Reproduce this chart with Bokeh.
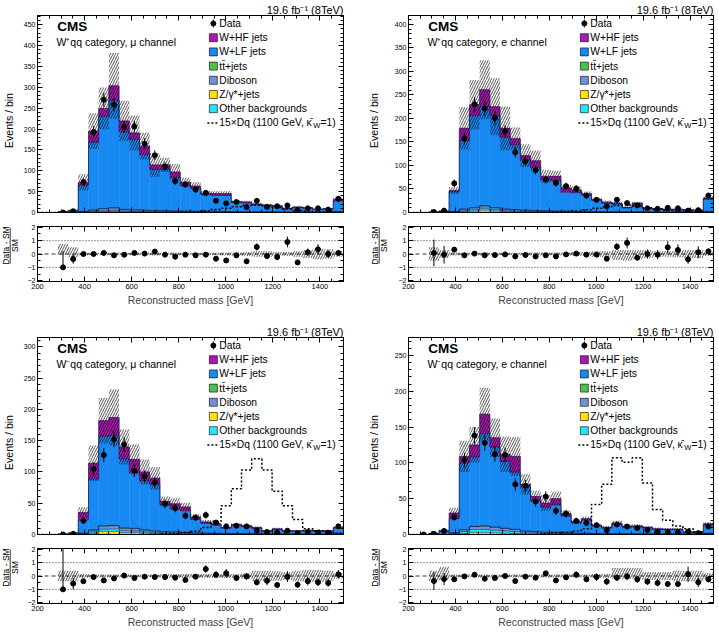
import math
from bokeh.plotting import figure
from bokeh.layouts import column, row
from bokeh.models import (Range1d, LinearAxis, SingleIntervalTicker, FixedTicker,
                          Span, CustomJSTickFormatter)
from bokeh.core.properties import value
from bokeh.embed import file_html
from bokeh.resources import INLINE

NaN = float("nan")
X_LO, X_HI, N_BINS = 200, 1500, 30
BIN_W = (X_HI - X_LO) / N_BINS
edges = [X_LO + i * BIN_W for i in range(N_BINS + 1)]
centers = [X_LO + (i + 0.5) * BIN_W for i in range(N_BINS)]

LUMI = "19.6 fb\u207b\u00b9 (8TeV)"
X_TITLE = "Reconstructed mass [GeV]"
Y_TITLE = "Events / bin"
R_NUM, R_DEN = "Data - SM", "SM"
LEGEND_LABELS = ["Data", "W+HF jets", "W+LF jets", "tt\u0304+jets", "Diboson",
                 "Z/\u03b3*+jets", "Other backgrounds", "15\u00d7Dq (1100 GeV, \u03ba\u0304"]

# ---------------- W+qq, mu channel ----------------
tl_title = "W\u207aqq category, \u03bc channel"
tl_data = [NaN, NaN, 0, 3, 73, 193, 270, 258, 205, 206, 165, 137, 110, 75, 67, 55, 47, 28, 22, 25,
           13, 28, 13, 15, 17, 6, 10, 10, 7, 33]
tl_whf = [0, 0, 0.5, 1, 7, 26, 19, 35, 26, 15, 20, 11, 11, 13, 8, 5, 3, 4, 4, 2,
          2, 2, 2, 1.5, 1, 1.5, 1, 1, 1, 4]
tl_wlf = [0, 0, 1, 4, 63, 163, 221, 257, 186, 169, 133.5, 98.5, 98.7, 80.5, 61, 55.5,
          40.8, 38.8, 39.2, 22.5, 21.5, 16.8, 14.8, 13.4, 8.3, 10.8, 9.3, 6.3, 7.4, 25]
tl_tt = [0, 0, 0, 0, 0.1, 0.3, 0.4, 0.5, 0.4, 0.4, 0.3, 0.3, 0.3, 0.2, 0.2, 0.2, 0.2, 0.2, 0.1, 0.1,
         0.1, 0.1, 0.1, 0.1, 0.1, 0.1, 0.1, 0.1, 0.1, 0.2]
tl_vv = [0, 0, 0, 0, 1, 3, 5, 6, 4, 3.5, 3, 2.5, 2.5, 2, 2, 1.5, 1.5, 1.5, 1.2, 1,
         1, 0.8, 0.8, 0.7, 0.5, 0.5, 0.5, 0.5, 0.4, 1.5]
tl_z = [0, 0, 0, 0, 0.5, 1, 2, 2.5, 1.5, 1, 1, 0.8, 0.6, 0.5, 0.4, 0.4, 0.3, 0.3, 0.3, 0.2,
        0.2, 0.2, 0.2, 0.2, 0.1, 0.1, 0.1, 0.1, 0.1, 0.3]
tl_oth = [0, 0, 0, 0, 0.5, 1.5, 2, 2.5, 1.5, 1.5, 1.2, 1, 1, 0.8, 0.7, 0.6, 0.5, 0.5, 0.4, 0.4,
          0.3, 0.3, 0.3, 0.3, 0.2, 0.2, 0.2, 0.2, 0.2, 0.5]
tl_sig = [0, 0, 0, 0, 0, 0, 0, 0, 0, 0, 0, 0, 0, 0.5, 1, 2, 4, 7, 10, 14,
          17, 18, 16, 12, 8, 5, 3, 2, 1, 1]
tl_unc = [0, 0, 0.5, 0.4, 0.27, 0.22, 0.2, 0.26, 0.22, 0.22, 0.2, 0.25, 0.15, 0.2, 0.15, 0.15,
          0.12, 0.12, 0.12, 0.12, 0.12, 0.15, 0.15, 0.15, 0.2, 0.15, 0.15, 0.2, 0.2, 0.12]
tl_ratio = [NaN, NaN, -1, -0.38, 0, 0, 0.08, -0.1, -0.05, 0.08, 0.03, 0.18, -0.05, -0.2, -0.05, -0.1,
            -0.05, -0.35, -0.48, -0.1, -0.55, 0.53, -0.15, -0.23, 0.9, -0.63, 0.13, 0.35, 0, 0.08]
tl_rlo = [NaN, NaN, -0.05, -0.25, -0.1, -0.1, -0.1, -0.12, -0.1, -0.1, -0.1, -0.12, -0.1, -0.12, -0.1,
          -0.1, -0.1, -0.1, -0.12, -0.12, -0.15, -0.2, -0.2, -0.15, -0.15, -0.2, -0.3, -0.4, -0.35, -0.2]
tl_rhi = [NaN, NaN, 0.75, 0.5, 0.1, 0.1, 0.1, 0.12, 0.1, 0.1, 0.1, 0.12, 0.1, 0.12, 0.1,
          0.1, 0.1, 0.1, 0.12, 0.12, 0.15, 0.2, 0.2, 0.15, 0.15, 0.2, 0.3, 0.4, 0.35, 0.2]

# ---------------- W+qq, e channel ----------------
tr_title = "W\u207aqq category, e channel"
tr_data = [NaN, NaN, 1, 4, 62, 157, 230, 221, 201, 173, 128, 109, 90, 70, 63, 56, 51, 36, 27, 13,
           27, 20, 15, 9, 8, 10, 9, 4, 5, 36]
tr_whf = [0, 0, 0, 0, 3, 26, 23, 36, 19, 19, 13, 10, 14, 7, 9, 9, 5, 3, 2, 2,
          2, 1, 2, 1, 1, 1, 1, 1, 0.5, 3]
tr_wlf = [0, 0, 1, 3, 41.9, 145.7, 195.6, 210.5, 195.6, 152.8, 137.8, 106, 91.8, 66.2, 65.1, 40.3,
          40.8, 34.8, 24.2, 18.5, 16.6, 8.8, 16.8, 7, 6.1, 5.2, 5.2, 4.2, 3.8, 25.8]
tr_tt = [0, 0, 0, 0, 0.1, 0.3, 0.4, 0.5, 0.4, 0.2, 0.2, 0.3, 0.2, 0.2, 0.1, 0.1, 0.1, 0.1, 0.1, 0.1,
         0.1, 0.1, 0.1, 0.1, 0.1, 0.1, 0.1, 0.1, 0.1, 0.2]
tr_vv = [0, 0, 0, 0, 1, 3, 4, 5, 4, 3, 3, 2.5, 2, 2, 1.5, 1.5, 1.2, 1.2, 1, 0.8,
         0.8, 0.6, 0.6, 0.5, 0.5, 0.4, 0.4, 0.4, 0.3, 1.2]
tr_z = [0, 0, 0, 0, 0.5, 2, 3, 5, 3, 2, 1.5, 1, 1, 0.8, 0.6, 0.5, 0.4, 0.4, 0.3, 0.3,
        0.2, 0.2, 0.2, 0.2, 0.1, 0.1, 0.1, 0.1, 0.1, 0.3]
tr_oth = [0, 0, 0, 0, 0.5, 2, 3, 4, 3, 2, 1.5, 1.2, 1, 0.8, 0.7, 0.6, 0.5, 0.5, 0.4, 0.3,
          0.3, 0.3, 0.3, 0.2, 0.2, 0.2, 0.2, 0.2, 0.2, 0.5]
tr_sig = [0, 0, 0, 0, 0, 0, 0, 0, 0, 0, 0, 0, 0, 0.5, 1, 2, 3, 6, 9, 12,
          15, 16, 14, 10, 7, 4, 3, 2, 1, 1]
tr_unc = [0, 0, 0.5, 0.4, 0.15, 0.25, 0.23, 0.24, 0.27, 0.26, 0.15, 0.2, 0.2, 0.18, 0.15, 0.15,
          0.15, 0.12, 0.12, 0.15, 0.15, 0.2, 0.15, 0.15, 0.15, 0.15, 0.15, 0.2, 0.2, 0.12]
tr_ratio = [NaN, NaN, 0.08, -0.05, 0.33, -0.1, 0.03, -0.1, -0.08, -0.03, -0.18, -0.08, -0.18, -0.1,
            -0.18, -0.03, 0.03, -0.05, -0.05, -0.35, 0.55, 0.83, -0.28, 0, -0.05, 0.5, 0.3, -0.4, 0.13, 0.2]
tr_rlo = [NaN, NaN, -0.5, -0.3, -0.12, -0.1, -0.1, -0.12, -0.1, -0.1, -0.1, -0.12, -0.12, -0.12, -0.12,
          -0.12, -0.15, -0.15, -0.2, -0.25, -0.45, -0.5, -0.4, -0.3, -0.2, -0.2, -0.25, -0.3, -0.3, -0.15]
tr_rhi = [NaN, NaN, 0.5, 0.3, 0.12, 0.1, 0.1, 0.12, 0.1, 0.1, 0.1, 0.12, 0.12, 0.12, 0.12,
          0.12, 0.15, 0.15, 0.2, 0.2, 0.3, 0.3, 0.3, 0.3, 0.2, 0.2, 0.25, 0.3, 0.3, 0.15]

# ---------------- W-qq, mu channel ----------------
bl_title = "W\u207bqq category, \u03bc channel"
bl_data = [NaN, NaN, 0, 1, 22, 105, 127, 152, 144, 102, 93, 83, 49, 42, 30, 27, 31, 19, 13, 14,
           13, 6, 4, 3, 6, 2, 4, 3, 3, 13]
bl_whf = [0, 0, 0, 0, 12, 25, 25, 29, 19, 21, 14, 9, 5, 8, 6, 4, 2, 2, 1, 2,
          2, 1, 1, 1, 1, 1, 1, 1, 1, 1.5]
bl_wlf = [0, 0, 0.5, 2.3, 20.9, 81.7, 143.1, 143.5, 110.6, 89.1, 78.7, 75.2, 43.6, 36.8, 34.7, 21.5,
          15.9, 13.1, 8.4, 12.4, 10.6, 8.8, 4, 7, 4.1, 4.2, 4.7, 4.3, 4.3, 8.1]
bl_tt = [0, 0, 0, 0, 0.1, 0.3, 0.4, 0.5, 0.4, 0.4, 0.3, 0.3, 0.2, 0.2, 0.2, 0.1, 0.1, 0.1, 0.1, 0.1,
         0.1, 0.1, 0.1, 0.1, 0.1, 0.1, 0.1, 0.1, 0.1, 0.1]
bl_vv = [0, 0, 0, 0, 1, 3, 5, 5, 4, 4, 3, 2.5, 2, 2, 1.5, 1.2, 1, 1, 0.8, 0.8,
         0.7, 0.6, 0.5, 0.5, 0.4, 0.4, 0.4, 0.3, 0.3, 1]
bl_z = [0, 0, 0, 0, 0.5, 2, 5, 5, 3, 3, 2, 1.5, 1, 1, 0.8, 0.6, 0.5, 0.4, 0.3, 0.3,
        0.3, 0.2, 0.2, 0.2, 0.2, 0.1, 0.1, 0.1, 0.1, 0.3]
bl_oth = [0, 0, 0, 0, 0.5, 2, 3.5, 4, 3, 2.5, 2, 1.5, 1.2, 1, 0.8, 0.6, 0.5, 0.4, 0.4, 0.4,
          0.3, 0.3, 0.2, 0.2, 0.2, 0.2, 0.2, 0.2, 0.2, 0.5]
bl_sig = [0, 0, 0, 0, 0, 0, 0, 0, 0, 0, 0, 0, 1, 1.5, 3, 5, 11, 21, 46, 73,
          103, 121, 103, 69, 46, 24, 9, 6, 4, 2]
bl_unc = [0, 0, 0.5, 0.4, 0.25, 0.25, 0.2, 0.24, 0.2, 0.2, 0.2, 0.2, 0.15, 0.18, 0.15, 0.15,
          0.15, 0.12, 0.12, 0.12, 0.12, 0.2, 0.2, 0.2, 0.2, 0.2, 0.2, 0.2, 0.2, 0.12]
bl_ratio = [NaN, NaN, -1, -0.57, -0.39, -0.08, -0.33, -0.18, 0.03, -0.15, -0.05, -0.08, -0.08, -0.13,
            -0.3, -0.05, 0.52, 0.1, 0.2, -0.15, -0.03, -0.47, -0.36, -0.67, -0.05, -0.65, -0.39, -0.47, -0.52, 0.13]
bl_rlo = [NaN, NaN, -0.4, -0.4, -0.15, -0.12, -0.12, -0.12, -0.12, -0.12, -0.12, -0.12, -0.15, -0.15, -0.15,
          -0.15, -0.15, -0.15, -0.15, -0.15, -0.2, -0.4, -0.4, -0.35, -0.3, -0.4, -0.45, -0.45, -0.4, -0.2]
bl_rhi = [NaN, NaN, 0.4, 0.4, 0.15, 0.12, 0.12, 0.12, 0.12, 0.12, 0.12, 0.12, 0.15, 0.15, 0.15,
          0.15, 0.15, 0.15, 0.15, 0.15, 0.2, 0.4, 0.4, 0.35, 0.3, 0.4, 0.45, 0.45, 0.4, 0.2]

# ---------------- W-qq, e channel ----------------
br_title = "W\u207bqq category, e channel"
br_data = [NaN, 0, 1, 5, 24, 104, 138, 128, 112, 111, 70, 68, 46, 53, 33, 29, 19, 16, 13, 6,
           14, 11, 9, 6, 4, 3, 3, 4, 2, 11]
br_whf = [0, 0, 0, 0, 8, 9, 17, 27, 13, 10, 22, 4, 6, 6, 8, 3, 2, 2, 1, 1,
          2, 1, 1, 1, 1, 0.5, 0.5, 0.5, 0.5, 2]
br_wlf = [0, 0, 1.5, 5, 19.4, 93.2, 96.6, 129, 111.6, 93.3, 79.8, 61.2, 42.8, 34.7, 38.8, 23.9,
          14.3, 18.3, 10.7, 7.9, 12.9, 9.5, 10, 8.2, 6.3, 6.3, 6.3, 2.5, 3, 11.3]
br_tt = [0, 0, 0, 0, 0.1, 0.3, 0.4, 0.5, 0.4, 0.2, 0.2, 0.3, 0.2, 0.2, 0.1, 0.1, 0.1, 0.1, 0.1, 0.1,
         0.1, 0.1, 0.1, 0.1, 0.1, 0.1, 0.1, 0.1, 0.1, 0.1]
br_vv = [0, 0, 0, 0, 1, 2.5, 4, 4.5, 4, 3.5, 3, 2, 2, 1.5, 1.5, 1, 0.8, 0.8, 0.6, 0.5,
         0.5, 0.4, 0.4, 0.4, 0.3, 0.3, 0.3, 0.2, 0.2, 0.8]
br_z = [0, 0, 0, 0, 0.5, 1.5, 3, 3, 2.5, 2, 1.5, 1, 0.8, 0.6, 0.6, 0.4, 0.3, 0.3, 0.2, 0.2,
        0.2, 0.2, 0.2, 0.1, 0.1, 0.1, 0.1, 0.1, 0.1, 0.3]
br_oth = [0, 0, 0, 0, 1, 2.5, 4, 4, 3.5, 3, 2.5, 1.5, 1.2, 1, 1, 0.6, 0.5, 0.5, 0.4, 0.3,
          0.3, 0.3, 0.3, 0.2, 0.2, 0.2, 0.2, 0.1, 0.1, 0.5]
br_sig = [0, 0, 0, 0, 0, 0, 0, 0, 0, 0, 0, 0, 0, 1, 2, 3, 5, 8, 42, 70,
          107, 101, 107, 72, 35, 20, 12, 8, 3, 1]
br_unc = [0, 0, 0.5, 0.4, 0.25, 0.2, 0.2, 0.22, 0.2, 0.22, 0.25, 0.2, 0.15, 0.25, 0.2, 0.15,
          0.15, 0.15, 0.15, 0.2, 0.2, 0.25, 0.2, 0.2, 0.2, 0.2, 0.2, 0.2, 0.2, 0.15]
br_ratio = [NaN, NaN, -0.38, -0.23, -0.25, -0.03, 0.1, -0.2, -0.15, 0.0, -0.38, -0.05, -0.13, 0.2,
            -0.33, -0.1, 0.1, -0.25, -0.08, -0.42, -0.13, -0.03, -0.25, -0.42, -0.52, -0.6, -0.6, 0.13, -0.47, -0.25]
br_rlo = [NaN, NaN, -0.4, -0.3, -0.12, -0.12, -0.12, -0.12, -0.12, -0.12, -0.12, -0.12, -0.12, -0.12, -0.12,
          -0.12, -0.12, -0.12, -0.15, -0.15, -0.2, -0.2, -0.2, -0.3, -0.3, -0.3, -0.4, -0.4, -0.4, -0.2]
br_rhi = [NaN, NaN, 0.4, 0.7, 0.12, 0.12, 0.12, 0.12, 0.12, 0.12, 0.12, 0.12, 0.12, 0.12, 0.12,
          0.12, 0.12, 0.12, 0.15, 0.15, 0.6, 0.6, 0.6, 0.3, 0.3, 0.3, 0.4, 0.4, 0.4, 0.2]

PANELS = [
    dict(title=tl_title, data=tl_data, whf=tl_whf, wlf=tl_wlf, tt=tl_tt, vv=tl_vv, z=tl_z, oth=tl_oth,
         sig=tl_sig, unc=tl_unc, ratio=tl_ratio, rlo=tl_rlo, rhi=tl_rhi, ymax=472),
    dict(title=tr_title, data=tr_data, whf=tr_whf, wlf=tr_wlf, tt=tr_tt, vv=tr_vv, z=tr_z, oth=tr_oth,
         sig=tr_sig, unc=tr_unc, ratio=tr_ratio, rlo=tr_rlo, rhi=tr_rhi, ymax=419),
    dict(title=bl_title, data=bl_data, whf=bl_whf, wlf=bl_wlf, tt=bl_tt, vv=bl_vv, z=bl_z, oth=bl_oth,
         sig=bl_sig, unc=bl_unc, ratio=bl_ratio, rlo=bl_rlo, rhi=bl_rhi, ymax=315),
    dict(title=br_title, data=br_data, whf=br_whf, wlf=br_wlf, tt=br_tt, vv=br_vv, z=br_z, oth=br_oth,
         sig=br_sig, unc=br_unc, ratio=br_ratio, rlo=br_rlo, rhi=br_rhi, ymax=275),
]

C_HF = "#aa18b0"
C_LF = "#1789f2"
C_TT = "#4cc24c"
C_VV = "#7190d6"
C_Z = "#ffe000"
C_OTH = "#22e6ff"
C_EDGE = "#14144a"
FONT = "Liberation Sans"
FH_MAIN = 197
FH_RATIO = 55
R_LO, R_HI = -2.06, 2.06
MAIN_H = 220


def style_axis(ax, ticker, labels=True, font="7px", standoff=2):
    ax.ticker = ticker
    ax.major_tick_in = 5
    ax.major_tick_out = 0
    ax.minor_tick_in = 3
    ax.minor_tick_out = 0
    ax.axis_line_color = "black"
    ax.major_tick_line_color = "black"
    ax.minor_tick_line_color = "black"
    ax.major_label_text_font = FONT
    if labels:
        ax.major_label_text_font_size = font
        ax.major_label_standoff = standoff
        ax.major_label_text_color = "black"
    else:
        ax.formatter = CustomJSTickFormatter(code="return ''")
        ax.major_label_text_font_size = "1px"
        ax.major_label_standoff = 0


def new_fig(width, height, yr, bl, br, bt, bb, title=None):
    kw = dict(width=width, height=height, x_range=Range1d(X_LO, X_HI), y_range=Range1d(*yr),
              output_backend="svg", toolbar_location=None, min_border_left=bl,
              min_border_right=br, min_border_top=bt, min_border_bottom=bb)
    if title:
        kw["title"] = title
    p = figure(**kw)
    p.xgrid.grid_line_color = None
    p.ygrid.grid_line_color = None
    p.outline_line_color = "black"
    p.outline_line_width = 1
    p.background_fill_color = "white"
    p.border_fill_color = "white"
    return p


def label_strip(width, height):
    """Narrow axis-less figure (pixel coordinates, y downwards) holding rotated axis titles."""
    f = figure(width=width, height=height, x_range=Range1d(0, width), y_range=Range1d(height, 0),
               output_backend="svg", toolbar_location=None, min_border=0,
               x_axis_location=None, y_axis_location=None)
    f.outline_line_color = None
    f.background_fill_color = "white"
    f.border_fill_color = "white"
    for g in f.grid:
        g.visible = False
    return f


def step_y(vals):
    return list(vals) + [vals[-1]]


def make_panel(P, top_row, left_col):
    width = 360 if left_col else 359
    strip_w = 20 if left_col else 31
    bl_total, br = (35, 17) if left_col else (46, 6)
    bl = bl_total - strip_w
    fig_w = width - strip_w
    fw = fig_w - bl - br
    ymax = P["ymax"]

    def fx(px):
        return X_LO + px / fw * (X_HI - X_LO)

    def fy(py):
        return ymax * (1 - py / FH_MAIN)

    # ---------- main plot ----------
    p = new_fig(fig_w, MAIN_H, (0, ymax), bl, br, 15, 8, title=LUMI)
    p.title.align = "right"
    p.title.text_font = FONT
    p.title.text_font_size = "11px"
    p.title.text_font_style = "normal"
    p.title.text_color = "black"
    p.title.standoff = 0
    p.title.offset = 0

    style_axis(p.xaxis[0], SingleIntervalTicker(interval=200, num_minor_ticks=4), labels=False)
    style_axis(p.yaxis[0], SingleIntervalTicker(interval=50, num_minor_ticks=5), font="7px")
    top_ax = LinearAxis()
    style_axis(top_ax, SingleIntervalTicker(interval=200, num_minor_ticks=4), labels=False)
    p.add_layout(top_ax, "above")
    right_ax = LinearAxis()
    style_axis(right_ax, SingleIntervalTicker(interval=50, num_minor_ticks=5), labels=False)
    p.add_layout(right_ax, "right")

    comps = [(P["z"], C_Z), (P["oth"], C_OTH), (P["vv"], C_VV), (P["tt"], C_TT),
             (P["wlf"], C_LF), (P["whf"], C_HF)]
    base = [0.0] * N_BINS
    cums = []
    for vals, col in comps:
        top = [b + v for b, v in zip(base, vals)]
        p.quad(left=edges[:-1], right=edges[1:], bottom=base, top=top,
               fill_color=col, line_color=col, line_width=0.4)
        cums.append(top)
        base = top
    total = base
    for cum in cums:
        p.step(x=edges, y=step_y(cum), mode="after", line_color=C_EDGE, line_width=0.6, line_alpha=0.85)

    lo = [t * (1 - u) for t, u in zip(total, P["unc"])]
    hi = [t * (1 + u) for t, u in zip(total, P["unc"])]
    p.quad(left=edges[:-1], right=edges[1:], bottom=lo, top=hi, fill_alpha=0, line_color=None,
           hatch_pattern="/", hatch_color="black", hatch_alpha=0.85, hatch_scale=5, hatch_weight=0.8)

    p.step(x=edges, y=step_y(P["sig"]), mode="after", line_color="black", line_dash="2 2", line_width=1.5)

    d = P["data"]
    err = [math.sqrt(v) if v == v else NaN for v in d]
    p.segment(x0=centers, x1=centers, y0=[v - e for v, e in zip(d, err)],
              y1=[v + e for v, e in zip(d, err)], line_color="black", line_width=1)
    p.scatter(x=centers, y=d, size=5, color="black")

    # texts & legend (positions as pixel offsets inside the frame)
    p.text(x=[fx(20)], y=[fy(10.5)], text=["CMS"], text_font=value(FONT), text_font_size="13.5px",
           text_font_style="bold", text_baseline="middle", text_align="left", text_color="black")
    p.text(x=[fx(19)], y=[fy(26.5)], text=[P["title"]], text_font=value(FONT), text_font_size="10.5px",
           text_baseline="middle", text_align="left", text_color="black")
    rows = [8, 22.2, 36.4, 50.6, 64.8, 79, 93.2, 107.4]
    mx, tx = 177, 183
    p.text(x=[fx(tx)] * 8, y=[fy(r) for r in rows], text=LEGEND_LABELS, text_font=value(FONT),
           text_font_size="10.3px", text_baseline="middle", text_align="left", text_color="black")
    kx = 94.5
    p.text(x=[fx(tx + kx)], y=[fy(rows[7] + 3)], text=["W"], text_font=value(FONT),
           text_font_size="7.5px", text_baseline="middle", text_align="left", text_color="black")
    p.text(x=[fx(tx + kx + 7.3)], y=[fy(rows[7])], text=["=1)"], text_font=value(FONT),
           text_font_size="10.3px", text_baseline="middle", text_align="left", text_color="black")
    p.rect(x=[fx(mx)] * 6, y=[fy(r) for r in rows[1:7]], width=8, height=8,
           width_units="screen", height_units="screen",
           fill_color=[C_HF, C_LF, C_TT, C_VV, C_Z, C_OTH], line_color="black", line_width=0.6)
    p.scatter(x=[fx(mx)], y=[fy(rows[0])], size=5, color="black")
    p.segment(x0=[fx(mx)], x1=[fx(mx)], y0=[fy(rows[0] - 4)], y1=[fy(rows[0] + 4)],
              line_color="black", line_width=1)
    p.segment(x0=[fx(mx - 6)], x1=[fx(mx + 5)], y0=[fy(rows[7])], y1=[fy(rows[7])],
              line_color="black", line_width=1.5, line_dash="2 2")

    # ---------- ratio plot ----------
    rh = 102 if top_row else 90
    rb = rh - 6 - FH_RATIO
    r = new_fig(fig_w, rh, (R_LO, R_HI), bl, br, 6, rb)
    style_axis(r.xaxis[0], SingleIntervalTicker(interval=200, num_minor_ticks=4), font="7.5px", standoff=2)
    r.xaxis.axis_label = X_TITLE
    r.xaxis.axis_label_text_font = FONT
    r.xaxis.axis_label_text_font_size = "10.5px"
    r.xaxis.axis_label_text_font_style = "normal"
    r.xaxis.axis_label_standoff = 2
    style_axis(r.yaxis[0], FixedTicker(ticks=[-2, -1, 0, 1, 2],
                                       minor_ticks=[-1.5, -0.5, 0.5, 1.5]), font="7px", standoff=2)
    rt = LinearAxis()
    style_axis(rt, SingleIntervalTicker(interval=200, num_minor_ticks=4), labels=False)
    r.add_layout(rt, "above")
    rr = LinearAxis()
    style_axis(rr, FixedTicker(ticks=[-2, -1, 0, 1, 2], minor_ticks=[-1.5, -0.5, 0.5, 1.5]), labels=False)
    r.add_layout(rr, "right")

    r.add_layout(Span(location=0, dimension="width", line_color="black", line_width=0.8, line_dash="4 3"))
    r.add_layout(Span(location=1, dimension="width", line_color="black", line_width=0.8, line_dash="1 2"))
    r.add_layout(Span(location=-1, dimension="width", line_color="black", line_width=0.8, line_dash="1 2"))

    r.quad(left=edges[:-1], right=edges[1:], bottom=P["rlo"], top=P["rhi"], fill_alpha=0, line_color=None,
           hatch_pattern="/", hatch_color="black", hatch_alpha=0.85, hatch_scale=5, hatch_weight=0.8)
    rat = P["ratio"]
    y0, y1 = [], []
    for v, dv, t in zip(rat, d, total):
        if v != v or t <= 0:
            y0.append(NaN)
            y1.append(NaN)
        elif dv == 0:
            y0.append(v)
            y1.append(v + 1.84 / t)
        else:
            e = math.sqrt(dv) / t
            y0.append(v - e)
            y1.append(v + e)
    r.segment(x0=centers, x1=centers, y0=y0, y1=y1, line_color="black", line_width=1)
    r.scatter(x=centers, y=rat, size=5, color="black")

    # ---------- axis-title strips ----------
    s_main = label_strip(strip_w, MAIN_H)
    ex = 8 if left_col else 13
    s_main.text(x=[ex], y=[15 + 105], text=[Y_TITLE], angle=math.pi / 2, text_align="center",
                text_baseline="middle", text_font=value(FONT), text_font_size="10.5px", text_color="black")
    s_ratio = label_strip(strip_w, rh)
    nx = 5.5 if left_col else 14.5
    yc = 6 + 19
    s_ratio.text(x=[nx], y=[yc], text=[R_NUM], angle=math.pi / 2, text_align="center",
                 text_baseline="middle", text_font=value(FONT), text_font_size="8.5px", text_color="black")
    s_ratio.text(x=[nx + 8.5], y=[yc], text=[R_DEN], angle=math.pi / 2, text_align="center",
                 text_baseline="middle", text_font=value(FONT), text_font_size="8.5px", text_color="black")
    s_ratio.segment(x0=[nx + 4.2], x1=[nx + 4.2], y0=[yc - 18], y1=[yc + 18], line_color="black", line_width=0.8)

    return row(column(s_main, s_ratio), column(p, r))


panels = [make_panel(PANELS[0], True, True), make_panel(PANELS[1], True, False),
          make_panel(PANELS[2], False, True), make_panel(PANELS[3], False, False)]
layout = column(row(panels[0], panels[1]), row(panels[2], panels[3]))

open("out.html", "w").write(file_html(layout, INLINE))
